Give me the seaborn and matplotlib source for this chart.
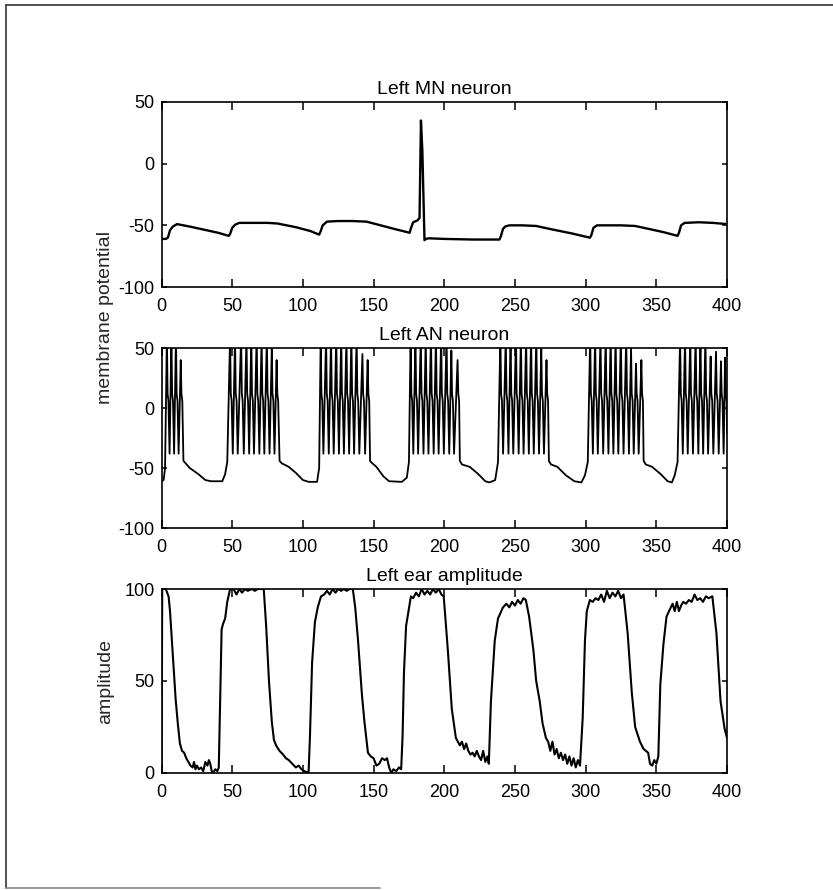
#Recreation of the three stacked neuron / ear traces

import matplotlib
matplotlib.use('Agg')

import matplotlib.pyplot as plt
from matplotlib.lines import Line2D
import seaborn as sns
import pandas as pd

#Left MN neuron
mn_t = [0, 3, 4.5, 6, 8, 11, 20, 30, 40, 47.5, 48.5, 50, 52, 55, 65, 75, 82, 95, 105,
        111.5, 112.5, 114, 117, 125, 135, 145, 155, 165, 175.5, 176.5, 178, 181, 182.5,
        183.5, 184.5, 186, 187, 189, 200, 220, 239, 240, 241.5, 243, 246, 255, 265, 275,
        290, 303, 304, 305.5, 308, 315, 325, 335, 345, 355, 365, 366, 367.5, 370, 380,
        390, 400]
mn_v = [-61, -61, -60, -54, -51, -49, -51, -53.5, -56, -58.5, -57, -52, -49.5, -48, -48,
        -48, -48.5, -51.5, -54.5, -57.5, -55, -50, -47, -46.5, -46.5, -47, -50, -53, -56,
        -52, -47.5, -46, -44, 35, 10, -62, -61, -60.5, -61, -61.5, -61.5, -59, -53, -51,
        -50, -50, -50.5, -53, -56.5, -60, -58, -52, -50, -50, -50, -50.5, -53, -55.5,
        -58.5, -56, -50, -48, -47.5, -48, -49]

#Left AN neuron: resting stretches between bursts, then spike times and peaks per burst
an_rest_t = [
    [0, 1.5, 2.5],
    [15.5, 17, 20, 26, 31, 35, 43, 45, 46.5],
    [83.5, 85, 90, 95, 100, 104, 110, 111.5],
    [147.5, 149, 152, 157, 161, 170, 173.5, 175],
    [211, 212.5, 218, 224, 229, 232, 236, 238],
    [274, 275.5, 280, 286, 292, 297, 299.5, 301.5],
    [341, 342.5, 347, 353, 358, 361, 363, 365],
    [400],
]
an_rest_v = [
    [-61, -60, -50],
    [-44, -46, -50, -55, -60, -61, -61, -55, -45],
    [-44, -46, -49, -54, -60, -61.5, -61.5, -50],
    [-44, -46, -49, -57, -61, -61.5, -58, -45],
    [-44, -47, -49, -55, -61, -62, -60, -45],
    [-44, -47, -49, -56, -61, -62, -56, -45],
    [-44, -47, -49, -55, -61, -62, -56, -45],
    [-20],
]
an_spike_times = [
    [3.8, 7.0, 10.2, 13.6],
    [48.5, 52.0, 56.3, 60.1, 63.5, 67.3, 70.8, 74.5, 78.0, 81.4],
    [112.6, 116.4, 119.9, 123.6, 127.1, 130.8, 134.3, 138.0, 142.1, 145.8],
    [176.2, 179.6, 183.4, 186.9, 190.6, 194.1, 197.8, 201.6, 205.0, 209.4],
    [239.7, 243.5, 246.9, 250.7, 254.2, 257.9, 261.4, 265.1, 268.6, 272.3],
    [303.2, 306.7, 310.5, 314.2, 317.7, 321.2, 324.9, 328.7, 332.1, 335.6, 339.4],
    [366.8, 370.3, 374.0, 377.8, 381.2, 384.7, 388.4, 392.2, 395.7, 398.6],
]
an_spike_peaks = [
    [60, 60, 60, 40],
    [60, 60, 60, 60, 60, 60, 60, 60, 50, 40],
    [60, 60, 60, 60, 60, 60, 60, 60, 45, 40],
    [60, 60, 60, 60, 60, 60, 60, 60, 48, 40],
    [60, 60, 60, 60, 60, 60, 60, 60, 50, 40],
    [60, 60, 60, 60, 60, 60, 60, 60, 50, 37, 40],
    [60, 60, 60, 60, 60, 60, 43, 47, 39, 42],
]
#shape of one spike after its peak: shoulder then trough
spike_dt = [0.5, 1.1, 1.9]
spike_dv = [12, 6, -38]

#Left ear amplitude
ear_t = [0, 0.5, 3, 5, 6, 7, 8.5, 10, 11.5, 13, 14.5, 16, 17.5, 19, 20.5, 22, 23, 24, 25,
         26.5, 28, 29.5, 31, 32.5, 33.5, 34.5, 35.5, 36.5, 38, 39.5, 40.5, 41.5, 42.5, 43.5,
         45, 46.5, 48.5, 51, 53, 55, 57, 59, 61, 64, 66, 68, 72.3, 74, 76, 78, 79.5, 81,
         83.5, 86, 88, 90, 92.5, 95, 97, 99, 101, 104, 105, 106.5, 108.5, 110.5, 112.8,
         115, 117, 119, 121, 123, 125, 127, 129, 131, 133, 135.3, 137, 139, 141.7, 143.5,
         146, 148, 150, 152, 154, 156, 158, 159.5, 161, 162.5, 164, 166, 168, 169.5, 170.5,
         171.5, 173, 176.4, 178, 180, 182, 184, 186, 188, 190, 192, 194, 196, 198, 199.6,
         202.5, 205.3, 208.2, 211, 212.5, 214, 215.5, 217, 218.5, 220, 221.5, 223, 224.5,
         226, 227.5, 229, 230.5, 231.5, 233, 235.7, 238, 241.5, 244, 246, 248, 250, 252,
         254, 256, 257.7, 260, 263, 265, 267.5, 269.5, 271.9, 273.5, 275, 276.5, 278, 279.5,
         281, 282.5, 284, 285.5, 287, 288.5, 290, 291.5, 293, 294.5, 296, 297.9, 299.5,
         300.8, 303, 305, 307, 309, 311, 313, 315, 317, 319, 321, 323, 325, 326.8, 329.7,
         332.6, 335, 338.4, 341, 344.2, 345.5, 347.1, 348.5, 350, 351.4, 352.8, 355, 357.2,
         359, 361.5, 363, 364.5, 366, 367.5, 369, 371, 373, 375, 377, 379, 381, 383, 385,
         387, 389.6, 392.5, 395.4, 398.3, 400]
ear_v = [0, 100, 100, 96, 88, 76, 58, 40, 27, 16, 12, 11, 8, 6, 4, 3, 6, 2, 4, 2, 3, 1, 6,
         4, 7, 5, 1, 0, 2, 1, 3, 40, 78, 81, 84, 93, 100, 100, 97, 100, 98, 100, 99, 100,
         99, 100, 100, 80, 50, 28, 18, 15, 12, 10, 8, 7, 5, 3, 4, 2, 1, 0, 20, 60, 82, 90,
         96, 97, 99, 97, 100, 98, 100, 99, 100, 99, 100, 100, 90, 72, 43, 28, 11, 9, 8, 4, 5,
         8, 7, 8, 3, 0, 2, 1, 3, 2, 20, 55, 80, 96, 95, 98, 96, 100, 97, 99, 97, 100, 98, 100,
         97, 96, 67, 35, 19, 15, 17, 13, 16, 12, 10, 11, 9, 12, 9, 7, 12, 6, 9, 5, 39, 72, 84,
         90, 92, 90, 93, 91, 94, 92, 95, 94, 85, 67, 50, 39, 27, 19, 17, 12, 17, 10, 13, 8,
         11, 7, 10, 5, 9, 4, 8, 3, 7, 4, 30, 72, 88, 94, 93, 95, 94, 97, 93, 99, 95, 98, 96,
         99, 95, 97, 76, 44, 25, 17, 13, 11, 5, 4, 7, 5, 9, 48, 70, 85, 88, 92, 88, 93, 88,
         91, 93, 92, 94, 93, 97, 94, 95, 93, 96, 95, 96, 76, 39, 24, 19]

#build the AN trace from the rest stretches and the spikes
an_t = []
an_v = []
for i in range(len(an_spike_times)):
    an_t += an_rest_t[i]
    an_v += an_rest_v[i]
    times = an_spike_times[i]
    peaks = an_spike_peaks[i]
    for j in range(len(times)):
        an_t.append(times[j])
        an_v.append(peaks[j])
        an_t.append(times[j] + spike_dt[0])
        an_v.append(spike_dv[0])
        an_t.append(times[j] + spike_dt[1])
        an_v.append(spike_dv[1])
        if j < len(times) - 1:
            an_t.append(times[j] + spike_dt[2])
            an_v.append(spike_dv[2])
an_t += an_rest_t[-1]
an_v += an_rest_v[-1]

mn_df = pd.DataFrame({'time': mn_t, 'value': mn_v})
an_df = pd.DataFrame({'time': an_t, 'value': an_v})
ear_df = pd.DataFrame({'time': ear_t, 'value': ear_v})

sns.set_style('white')
plt.rcParams['font.family'] = ['Liberation Sans', 'DejaVu Sans']
plt.rcParams['axes.unicode_minus'] = False

fig = plt.figure(figsize=(8.33, 8.9), dpi=100)

ax_mn = fig.add_axes([0.1939, 0.6775, 0.6789, 0.2079])
ax_an = fig.add_axes([0.1939, 0.4067, 0.6789, 0.2022])
ax_ear = fig.add_axes([0.1939, 0.1315, 0.6789, 0.2067])

panels = [
    (ax_mn, mn_df, 'Left MN neuron', (-100, 50), [50, 0, -50, -100], 1.7),
    (ax_an, an_df, 'Left AN neuron', (-100, 50), [50, 0, -50, -100], 1.3),
    (ax_ear, ear_df, 'Left ear amplitude', (0, 100), [0, 50, 100], 1.5),
]

for ax, df, title, ylim, yticks, lw in panels:
    sns.lineplot(data=df, x='time', y='value', ax=ax, color='black', linewidth=lw,
                 estimator=None, sort=False)
    ax.set_xlim(0, 400)
    ax.set_ylim(*ylim)
    ax.set_xticks(range(0, 401, 50))
    ax.set_yticks(yticks)
    ax.set_xlabel('')
    ax.set_ylabel('')
    ax.set_title(title, fontsize=14, pad=6, color='black')
    for spine in ax.spines.values():
        spine.set_visible(True)
        spine.set_color('black')
        spine.set_linewidth(1.2)
    ax.tick_params(axis='x', direction='in', length=6, width=1.1, top=True, bottom=True,
                   labelsize=13, pad=8, colors='black')
    ax.tick_params(axis='y', direction='in', length=3.5, width=1.1, left=True, right=True,
                   labelsize=13, pad=5, colors='black')

fig.text(106 / 833, 1 - 318 / 890, 'membrane potential', rotation=90,
         ha='center', va='center', fontsize=14)
fig.text(106 / 833, 1 - 681 / 890, 'amplitude', rotation=90,
         ha='center', va='center', fontsize=14)

#scanned page frame
fig.add_artist(Line2D([6 / 833, 6 / 833], [1 - 5 / 890, 1 - 888 / 890],
                      transform=fig.transFigure, color='#333333', linewidth=1.2))
fig.add_artist(Line2D([6 / 833, 1], [1 - 5 / 890, 1 - 5 / 890],
                      transform=fig.transFigure, color='#333333', linewidth=1.2))
fig.add_artist(Line2D([6 / 833, 380 / 833], [1 - 888 / 890, 1 - 888 / 890],
                      transform=fig.transFigure, color='#888888', linewidth=1.2))

fig.savefig('out.png', dpi=100)
